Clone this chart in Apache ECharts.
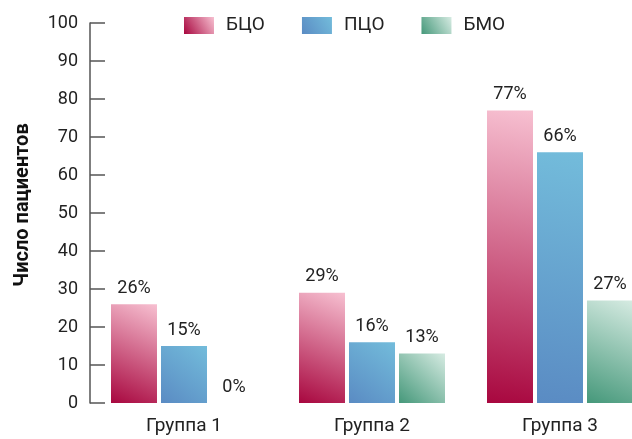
<!DOCTYPE html>
<html>
<head>
<meta charset="utf-8">
<script src="https://cdn.jsdelivr.net/npm/echarts@6/dist/echarts.min.js"></script>
<style>
  html, body { margin: 0; padding: 0; background: #fff; }
  #chart { width: 632px; height: 439px; }
</style>
</head>
<body>
<div id="chart"></div>
<script>
// Patient counts by group for each treatment type
const categories = ['Группа 1', 'Группа 2', 'Группа 3'];
const seriesNames = ['БЦО', 'ПЦО', 'БМО'];
const valuesBCO = [26, 29, 77];
const valuesPCO = [15, 16, 66];
const valuesBMO = [0, 13, 27];
const yTicks = { min: 0, max: 100, interval: 10 };

const FONT = 'Roboto, "Liberation Sans Narrow", sans-serif';

// Diagonal gradient: dark at bottom-left, light at top-right
function grad(dark, light) {
  return new echarts.graphic.LinearGradient(0, 1, 1, 0, [
    { offset: 0, color: dark },
    { offset: 1, color: light }
  ]);
}

const colors = [
  grad('#a8073f', '#f7c0d1'),
  grad('#5a8bc3', '#73bcdb'),
  grad('#45987a', '#d6ebe2')
];

function makeSeries(name, data, color) {
  return {
    name: name,
    type: 'bar',
    data: data,
    barWidth: 46,
    barGap: '8.7%',
    itemStyle: { color: color },
    label: {
      show: true,
      position: 'top',
      distance: 7,
      formatter: '{c}%',
      fontFamily: FONT,
      fontSize: 18,
      color: '#222'
    }
  };
}

const chart = echarts.init(document.getElementById('chart'));
chart.setOption({
  animation: false,
  backgroundColor: '#fff',
  legend: {
    top: 16,
    left: 184,
    padding: 0,
    icon: 'rect',
    itemWidth: 30,
    itemHeight: 17,
    itemGap: 37,
    textStyle: { fontFamily: FONT, fontSize: 19, color: '#222', padding: [0, 0, 0, 7] },
    data: seriesNames
  },
  // the plot area runs past the right edge so the last bar is clipped by the page
  grid: { left: 90, right: -22, top: 23, bottom: 36, outerBoundsMode: 'none', containLabel: false },
  xAxis: {
    type: 'category',
    data: categories,
    axisLine: { show: false },
    axisTick: { show: false },
    axisLabel: { fontFamily: FONT, fontSize: 19, color: '#222', margin: 14 }
  },
  yAxis: {
    type: 'value',
    min: yTicks.min,
    max: yTicks.max,
    interval: yTicks.interval,
    name: 'Число пациентов',
    nameLocation: 'middle',
    nameGap: 57,
    nameTextStyle: { fontFamily: FONT, fontSize: 20, fontWeight: 'bold', color: '#111', padding: [0, 0, 0, 16] },
    axisLine: { show: true, lineStyle: { color: '#555', width: 1.5 } },
    axisTick: { show: true, inside: true, length: 15, lineStyle: { color: '#555', width: 1.5 } },
    axisLabel: { fontFamily: FONT, fontSize: 18, color: '#222', margin: 12 },
    splitLine: { show: false }
  },
  series: [
    makeSeries(seriesNames[0], valuesBCO, colors[0]),
    makeSeries(seriesNames[1], valuesPCO, colors[1]),
    makeSeries(seriesNames[2], valuesBMO, colors[2])
  ]
});
</script>
</body>
</html>
